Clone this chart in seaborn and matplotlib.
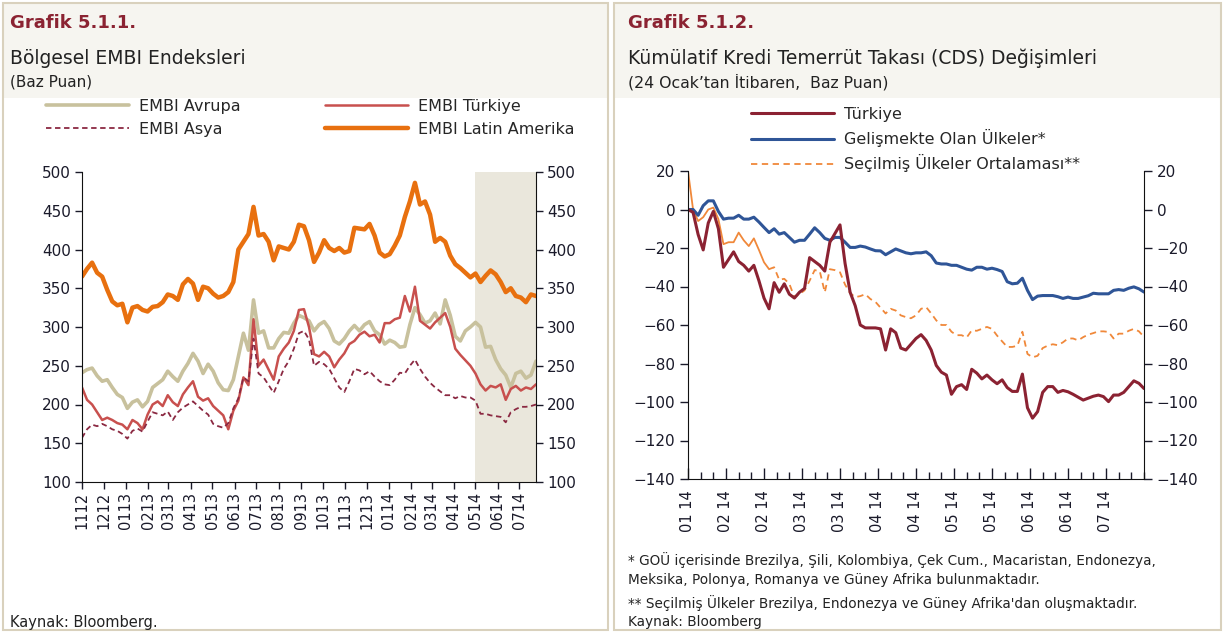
import numpy as np
import pandas as pd
import matplotlib
matplotlib.use("Agg")
import matplotlib.pyplot as plt
import matplotlib.ticker as mticker
import matplotlib.dates as mdates
from matplotlib.patches import Rectangle
from matplotlib.lines import Line2D
import seaborn as sns

# Grafik 5.1.1 - weekly EMBI spreads (baz puan), starting 1 Nov 2012
embi_start = "2012-11-01"
embi_latin = [365, 375, 383, 370, 365, 348, 333, 328, 330, 306, 325, 327, 322, 320, 326, 327,
              332, 342, 340, 335, 355, 362, 356, 335, 352, 350, 343, 338, 340, 345, 358,
              400, 410, 420, 455, 418, 420, 410, 386, 404, 402, 400, 410, 432, 430, 412, 384,
              396, 412, 402, 398, 402, 396, 398, 428, 427, 426, 433, 418, 396, 391,
              394, 405, 418, 442, 462, 486, 458, 462, 445, 410, 415, 410, 392, 381, 376, 370,
              364, 369, 358, 366, 373, 368, 358, 345, 350, 340, 338, 332, 342, 340]
embi_avrupa = [241, 245, 247, 237, 230, 232, 222, 213, 209, 195, 203, 206, 197, 204, 222, 227,
               232, 243, 236, 230, 243, 253, 266, 256, 240, 252, 243, 228, 219, 218, 232,
               262, 292, 270, 335, 292, 295, 273, 273, 285, 293, 292, 305, 315, 312, 308, 295,
               303, 307, 298, 282, 278, 285, 295, 302, 295, 303, 307, 295, 290, 278,
               283, 280, 274, 275, 303, 325, 316, 305, 308, 318, 304, 335, 315, 288, 282, 295,
               300, 306, 300, 274, 275, 258, 246, 238, 222, 240, 243, 234, 238, 256]
embi_turkiye = [222, 206, 200, 190, 180, 183, 180, 176, 174, 168, 180, 176, 168, 187, 200, 204,
                198, 212, 203, 198, 213, 222, 230, 210, 205, 208, 198, 192, 186, 168, 192,
                205, 235, 225, 310, 250, 258, 245, 232, 262, 272, 280, 295, 322, 323, 300, 265,
                262, 268, 262, 248, 258, 266, 278, 282, 290, 294, 288, 290, 280, 305,
                305, 310, 312, 340, 320, 352, 308, 303, 298, 306, 312, 318, 300, 272, 264, 257,
                250, 240, 226, 218, 224, 222, 226, 206, 220, 224, 218, 222, 220, 226]
embi_asya = [157, 168, 174, 172, 175, 172, 168, 166, 162, 156, 166, 169, 165, 178, 190, 188,
             186, 191, 180, 190, 196, 200, 204, 198, 192, 187, 175, 172, 170, 176, 195,
             208, 235, 230, 285, 240, 235, 225, 215, 230, 246, 256, 272, 292, 295, 284, 250,
             255, 252, 246, 234, 222, 216, 230, 246, 244, 239, 243, 236, 230, 226,
             225, 232, 241, 240, 250, 258, 246, 236, 228, 222, 217, 212, 212, 208, 211, 209,
             209, 205, 188, 188, 186, 185, 184, 177, 190, 194, 197, 197, 198, 200]
shade_from = "2014-05-01"

# Grafik 5.1.2 - cumulative CDS change since 24 Jan 2014, every 2nd day
cds_start = pd.Timestamp("2014-01-24")
cds_days = np.arange(0, 181, 2)
cds_turkiye = [0, -1.5, -13, -21, -7, -1, -10, -30, -26, -22, -27, -29, -32, -29, -37, -46,
               -51.6, -38, -43, -38.6, -44, -46, -43, -41, -25, -27, -29, -32, -17, -12.5, -8,
               -28, -43, -50, -60, -61.5, -61.5, -61.5, -62, -73, -62, -64, -72, -73, -70, -67,
               -65, -68, -73, -81, -84.5, -86, -96, -92, -91, -93.5, -83, -85, -88, -86,
               -88.5, -90.5, -88.5, -92.5, -94.5, -94.5, -85.5, -103, -108.4, -105, -95, -92,
               -92, -95, -94, -94.7, -96, -97.5, -99, -98, -97, -96.4, -97.2, -99.8, -96.4,
               -96.4, -95, -92, -89, -90.3, -93]
cds_gou = [0, 0, -3, 2, 4.5, 4.5, -1, -5, -4.5, -4.5, -3, -5, -5, -4, -6.5, -9.3, -12, -10,
           -12.8, -12, -14.5, -17, -16, -16, -12.8, -9.5, -12, -15, -16, -14.5, -14.5,
           -17, -19.7, -19.7, -19, -19.5, -20.5, -21.4, -21.5, -23.5, -22, -20.5, -21.5, -22.5,
           -23, -22.5, -22.5, -22, -24, -27.8, -28.3, -28.3, -29, -29, -30, -31, -31.5, -30,
           -30, -31,
           -30.5, -31.2, -32.2, -37.5, -38.6, -38.3, -35.7, -42, -46.8, -45, -44.7, -44.7,
           -44.7, -45.3, -46.2, -45.5, -46.2, -46.2, -45.5, -44.8, -43.5, -43.8, -43.8, -43.8,
           -42, -41.6, -42, -40.9, -40.2, -41.2, -42.9]
cds_secilmis = [20, 0, -6, -4, 0, 1, -5, -18, -17, -17, -12, -16, -19, -15, -21, -27.4, -31,
                -30, -36.5, -36, -38.6, -45.5, -44, -42, -37, -31.5, -32, -43, -31, -31.5, -32.6,
                -39, -43.5, -45.5, -45, -44, -46.5, -48, -51, -54, -51.6, -52.5, -55, -55.9,
                -56.5, -55, -51.6, -50.7, -54, -57.6, -60, -60, -63.5, -65.3, -65.3, -66.5,
                -62.8, -63, -62, -61,
                -62, -65.5, -68.5, -71.4, -71.4, -70.8, -63.5, -75, -76.8, -76, -72, -70.7, -70,
                -70.5, -69, -67, -67, -68, -66.3, -65, -64.2, -63.3, -63.3, -63.6, -67, -64.5,
                -64.5, -63, -62, -63.3, -66.2]
solid_until = 16  # first part of the orange series is drawn solid

sns.set_style("ticks")
plt.rcParams['font.family'] = ['DejaVu Sans']

W, H = 1224, 633
fig = plt.figure(figsize=(W / 100, H / 100), dpi=100)


def fx(x):
    return x / W


def fy(y):
    return 1 - y / H


# panel frames and header bands
for x0, x1 in [(3, 608), (614, 1221)]:
    fig.patches.append(Rectangle((fx(x0), fy(98)), fx(x1 - x0), (98 - 4) / H,
                                 transform=fig.transFigure, facecolor="#f6f5f0",
                                 edgecolor="none", zorder=0))
    fig.patches.append(Rectangle((fx(x0), fy(630)), fx(x1 - x0), (630 - 3) / H,
                                 transform=fig.transFigure, facecolor="none",
                                 edgecolor="#d9d1bd", lw=1.5, zorder=1))

title_col = "#8B2332"
txt_col = "#222222"
fig.text(fx(10), fy(23), "Grafik 5.1.1.", fontsize=13, fontweight="bold", color=title_col, va="center")
fig.text(fx(10), fy(58), "Bölgesel EMBI Endeksleri", fontsize=13.5, color=txt_col, va="center")
fig.text(fx(10), fy(82), "(Baz Puan)", fontsize=11, color=txt_col, va="center")
fig.text(fx(628), fy(23), "Grafik 5.1.2.", fontsize=13, fontweight="bold", color=title_col, va="center")
fig.text(fx(628), fy(58), "Kümülatif Kredi Temerrüt Takası (CDS) Değişimleri", fontsize=13.5,
         color=txt_col, va="center")
fig.text(fx(628), fy(82), "(24 Ocak’tan İtibaren,  Baz Puan)", fontsize=11.3, color=txt_col, va="center")

fig.text(fx(10), fy(622), "Kaynak: Bloomberg.", fontsize=10.5, color=txt_col, va="center")
notes = ["* GOÜ içerisinde Brezilya, Şili, Kolombiya, Çek Cum., Macaristan, Endonezya,",
         "Meksika, Polonya, Romanya ve Güney Afrika bulunmaktadır.",
         "** Seçilmiş Ülkeler Brezilya, Endonezya ve Güney Afrika'dan oluşmaktadır.",
         "Kaynak: Bloomberg"]
for txt, y in zip(notes, [560, 580, 603, 622]):
    fig.text(fx(628), fy(y), txt, fontsize=9.8, color=txt_col, va="center")

# ---------------- left chart
ax1 = fig.add_axes([fx(82), fy(482), fx(536 - 82), (482 - 172) / H])
dates = pd.date_range(embi_start, periods=len(embi_latin), freq="7D")
ax1.axvspan(pd.Timestamp(shade_from), dates[-1], color="#eae7dc", lw=0, zorder=0)

c_avr, c_tur, c_asy, c_lat = "#c8c19d", "#c8504e", "#8b2942", "#e8700f"
sns.lineplot(x=dates, y=embi_avrupa, ax=ax1, color=c_avr, lw=2.6, legend=False)
sns.lineplot(x=dates, y=embi_turkiye, ax=ax1, color=c_tur, lw=1.8, legend=False)
sns.lineplot(x=dates, y=embi_asya, ax=ax1, color=c_asy, lw=1.3, linestyle=(0, (3, 2)), legend=False)
sns.lineplot(x=dates, y=embi_latin, ax=ax1, color=c_lat, lw=3.2, legend=False)

ax1.set_xlim(dates[0], dates[-1])
ax1.set_ylim(100, 500)
ax1.yaxis.set_major_locator(mticker.MultipleLocator(50))
ax1.xaxis.set_major_locator(mdates.MonthLocator())
ax1.xaxis.set_major_formatter(mdates.DateFormatter("%m%y"))
ax1.tick_params(axis="y", left=True, right=True, labelleft=True, labelright=True,
                direction="out", length=5, width=1, labelsize=11, pad=3, colors="#1a1a2a")
ax1.tick_params(axis="x", direction="out", length=5, width=1, labelsize=10.5, pad=2,
                labelrotation=90, colors="#1a1a2a")
ax1.spines["top"].set_visible(False)
for s in ["left", "right", "bottom"]:
    ax1.spines[s].set_color("#111111")
ax1.set_xlabel("")
ax1.set_ylabel("")

h1 = [Line2D([], [], color=c_avr, lw=2.6), Line2D([], [], color=c_asy, lw=1.3, linestyle=(0, (3, 2))),
      Line2D([], [], color=c_tur, lw=1.8), Line2D([], [], color=c_lat, lw=3.2)]
fig.legend(h1, ["EMBI Avrupa", "EMBI Asya", "EMBI Türkiye", "EMBI Latin Amerika"],
           ncol=2, loc="upper left", bbox_to_anchor=(fx(46), fy(99)), frameon=False,
           fontsize=11.5, handlelength=5.2, handletextpad=0.6, columnspacing=5.3,
           labelspacing=0.5, borderpad=0, borderaxespad=0)

# ---------------- right chart
ax2 = fig.add_axes([fx(688), fy(479), fx(1144 - 688), (479 - 171) / H])
c_t2, c_gou, c_sec = "#8b2232", "#2f5597", "#f0883a"
sns.lineplot(x=cds_days[:solid_until + 1], y=cds_secilmis[:solid_until + 1], ax=ax2, color=c_sec,
             lw=1.3, legend=False)
sns.lineplot(x=cds_days[solid_until:], y=cds_secilmis[solid_until:], ax=ax2, color=c_sec,
             lw=1.3, linestyle=(0, (3.5, 2.5)), legend=False)
sns.lineplot(x=cds_days, y=cds_gou, ax=ax2, color=c_gou, lw=2.2, legend=False)
sns.lineplot(x=cds_days, y=cds_turkiye, ax=ax2, color=c_t2, lw=2.2, legend=False)

ax2.set_xlim(0, 180)
ax2.set_ylim(-140, 20)
ax2.yaxis.set_major_locator(mticker.MultipleLocator(20))
ax2.set_xticks(np.arange(0, 166, 15))
ax2.set_xticks(np.arange(0, 181, 5), minor=True)
ax2.xaxis.set_major_formatter(mticker.FuncFormatter(
    lambda d, pos: (cds_start + pd.Timedelta(days=int(d))).strftime("%m %y")))
ax2.tick_params(axis="y", left=True, right=True, labelleft=True, labelright=True,
                direction="out", length=6, width=1, labelsize=11, pad=3, colors="#1a1a2a")
ax2.tick_params(axis="x", which="major", direction="in", length=8, width=1, labelsize=10.5,
                pad=8, labelrotation=90, colors="#1a1a2a")
ax2.tick_params(axis="x", which="minor", direction="in", length=5, width=1, colors="#1a1a2a")
ax2.spines["top"].set_visible(False)
for s in ["left", "right", "bottom"]:
    ax2.spines[s].set_color("#111111")
ax2.set_xlabel("")
ax2.set_ylabel("")

h2 = [Line2D([], [], color=c_t2, lw=2.2), Line2D([], [], color=c_gou, lw=2.2),
      Line2D([], [], color=c_sec, lw=1.3, linestyle=(0, (3.5, 2.5)))]
fig.legend(h2, ["Türkiye", "Gelişmekte Olan Ülkeler*", "Seçilmiş Ülkeler Ortalaması**"],
           loc="upper left", bbox_to_anchor=(fx(751), fy(107)), frameon=False,
           fontsize=11.5, handlelength=5.2, handletextpad=0.6, labelspacing=0.45,
           borderpad=0, borderaxespad=0)

fig.savefig("out.png", dpi=100)
